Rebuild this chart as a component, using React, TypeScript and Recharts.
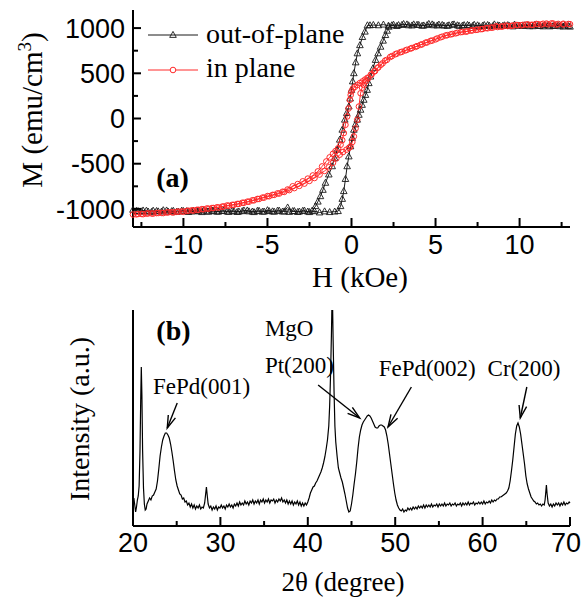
import React from 'react';
import { LineChart, Line, XAxis, YAxis, ReferenceLine, Legend } from 'recharts';

const SANS = '"Liberation Sans", Arial, sans-serif';
const SERIF = '"Liberation Serif", "Times New Roman", serif';

// ---------- Panel (a): hysteresis loops, [H (kOe), M (emu/cm3)] ----------
const outOfPlaneDown: [number, number][] = [
  [13.0,1015],[12.7,1030],[12.4,1020],[12.1,1028],[11.8,1018],[11.5,1032],[11.2,1022],[10.9,1035],[10.6,1020],[10.3,1030],
  [10.0,1025],[9.7,1038],[9.4,1022],[9.1,1030],[8.8,1027],[8.5,1040],[8.2,1025],[7.9,1033],[7.6,1020],[7.3,1036],
  [7.0,1028],[6.7,1032],[6.4,1024],[6.1,1040],[5.8,1030],[5.5,1026],[5.2,1038],[4.9,1030],[4.6,1045],[4.3,1028],
  [4.0,1034],[3.7,1040],[3.4,1030],[3.1,1044],[2.8,1032],[2.5,1036],[2.2,1026],[1.9,1038],[1.6,1030],[1.3,1034],
  [1.1,1030],[0.95,1030],[0.8,960],[0.65,900],[0.5,810],[0.35,720],[0.25,620],[0.14,500],[0.07,410],[0.0,316],
  [-0.08,220],[-0.16,132],[-0.28,60],[-0.4,-14],[-0.55,-125],[-0.7,-235],[-0.85,-345],[-1.0,-440],[-1.15,-529],[-1.35,-620],
  [-1.55,-712],[-1.7,-790],[-1.85,-860],[-2.0,-920],[-2.14,-970],[-2.34,-1020],[-2.6,-1030],[-2.9,-1022],[-3.2,-1035],[-3.5,-1025],
  [-3.8,-985],[-4.1,-1030],[-4.4,-1020],[-4.7,-1028],[-5.0,-1015],[-5.3,-1032],[-5.6,-1022],[-5.9,-1030],[-6.2,-1018],[-6.5,-1026],
  [-6.8,-1035],[-7.1,-1020],[-7.4,-1030],[-7.7,-1024],[-8.0,-1032],[-8.3,-1018],[-8.6,-1028],[-8.9,-1036],[-9.2,-1022],[-9.5,-1030],
  [-9.8,-1025],[-10.1,-1020],[-10.4,-1032],[-10.7,-1026],[-11.0,-1018],[-11.3,-1030],[-11.6,-1024],[-11.9,-1034],[-12.2,-1020],[-12.5,-1028],
  [-12.8,-1022]
];

const outOfPlaneUp: [number, number][] = [
  [-13.0,-1010],[-12.7,-1025],[-12.4,-1018],[-12.1,-1030],[-11.8,-1020],[-11.5,-1028],[-11.2,-1015],[-10.9,-1032],[-10.6,-1022],[-10.3,-1030],
  [-10.0,-1024],[-9.7,-1035],[-9.4,-1020],[-9.1,-1028],[-8.8,-1018],[-8.5,-1032],[-8.2,-1025],[-7.9,-1030],[-7.6,-1020],[-7.3,-1034],
  [-7.0,-1026],[-6.7,-1030],[-6.4,-1018],[-6.1,-1028],[-5.8,-1036],[-5.5,-1022],[-5.2,-1030],[-4.9,-1025],[-4.6,-1032],[-4.3,-1020],
  [-4.0,-1028],[-3.7,-1034],[-3.4,-1024],[-3.1,-1030],[-2.8,-1020],[-2.5,-1036],[-2.2,-1026],[-1.9,-1040],[-1.6,-1028],[-1.3,-1036],
  [-1.0,-1030],[-0.8,-1025],[-0.65,-970],[-0.55,-890],[-0.46,-804],[-0.36,-670],[-0.26,-529],[-0.16,-420],[-0.06,-309],[0.04,-215],
  [0.14,-125],[0.24,-65],[0.34,-14],[0.44,40],[0.54,96],[0.63,150],[0.73,206],[0.83,260],[0.93,316],[1.03,390],
  [1.13,463],[1.28,555],[1.43,647],[1.58,720],[1.73,793],[1.88,860],[2.02,922],[2.12,970],[2.22,1014],[2.4,1030],
  [2.7,1022],[3.0,1034],[3.3,1040],[3.6,1028],[3.9,1036],[4.2,1025],[4.5,1032],[4.8,1040],[5.1,1028],[5.4,1034],
  [5.7,1024],[6.0,1038],[6.3,1030],[6.6,1026],[6.9,1034],[7.2,1022],[7.5,1030],[7.8,1025],[8.1,1033],[8.4,1020],
  [8.7,1030],[9.0,1024],[9.3,1032],[9.6,1018],[9.9,1028],[10.2,1022],[10.5,1030],[10.8,1020],[11.1,1026],[11.4,1018],
  [11.7,1028],[12.0,1022],[12.3,1030],[12.6,1016],[12.9,1022]
];

const inPlaneDown: [number, number][] = [
  [13.0,1043],[12.6,1048],[12.2,1038],[11.9,1052],[11.6,1050],[11.3,1040],[11.0,1046],[10.7,1036],[10.4,1040],[10.1,1030],
  [9.8,1034],[9.5,1024],[9.2,1028],[8.9,1016],[8.6,1020],[8.3,1005],[8.0,1000],[7.7,988],[7.4,980],[7.1,972],
  [6.8,960],[6.5,955],[6.2,942],[5.9,930],[5.6,918],[5.3,898],[5.0,875],[4.7,858],[4.4,838],[4.1,815],
  [3.8,792],[3.5,772],[3.2,752],[2.9,732],[2.6,710],[2.3,680],[2.0,640],[1.75,595],[1.55,560],[1.35,520],
  [1.15,485],[0.95,450],[0.8,430],[0.65,410],[0.5,392],[0.35,372],[0.2,350],[0.08,330],[0.0,300],[-0.05,260],
  [-0.1,206],[-0.18,110],[-0.26,22],[-0.36,-70],[-0.46,-161],[-0.55,-240],[-0.65,-290],[-0.8,-330],[-0.95,-360],[-1.1,-390],
  [-1.3,-430],[-1.5,-475],[-1.75,-530],[-2.0,-585],[-2.3,-630],[-2.6,-665],[-2.9,-695],[-3.2,-725],[-3.5,-750],[-3.8,-785],
  [-4.1,-810],[-4.4,-828],[-4.7,-845],[-5.0,-858],[-5.3,-875],[-5.6,-890],[-5.9,-905],[-6.2,-920],[-6.5,-932],[-6.8,-945],
  [-7.1,-955],[-7.4,-962],[-7.7,-975],[-8.0,-982],[-8.3,-990],[-8.6,-995],[-8.9,-1002],[-9.2,-1010],[-9.5,-1015],[-9.8,-1022],
  [-10.1,-1028],[-10.4,-1032],[-10.7,-1036],[-11.0,-1040],[-11.3,-1044],[-11.6,-1046],[-11.9,-1050],[-12.2,-1052],[-12.5,-1055],[-12.8,-1060]
];

const inPlaneUp: [number, number][] = [
  [-13.0,-1062],[-12.7,-1056],[-12.4,-1058],[-12.1,-1050],[-11.8,-1052],[-11.5,-1045],[-11.2,-1046],[-10.9,-1038],[-10.6,-1040],[-10.3,-1030],
  [-10.0,-1032],[-9.7,-1020],[-9.4,-1018],[-9.1,-1010],[-8.8,-1004],[-8.5,-998],[-8.2,-990],[-7.9,-985],[-7.6,-972],[-7.3,-965],
  [-7.0,-955],[-6.7,-945],[-6.4,-932],[-6.1,-920],[-5.8,-905],[-5.5,-890],[-5.2,-875],[-4.9,-860],[-4.6,-845],[-4.3,-830],
  [-4.0,-812],[-3.7,-792],[-3.4,-770],[-3.1,-745],[-2.8,-720],[-2.5,-690],[-2.2,-658],[-1.9,-620],[-1.6,-580],[-1.35,-540],
  [-1.1,-490],[-0.9,-440],[-0.7,-400],[-0.5,-370],[-0.3,-345],[-0.15,-325],[-0.06,-309],[0.05,-260],[0.14,-198],[0.24,-110],
  [0.34,-14],[0.44,132],[0.54,279],[0.63,340],[0.73,371],[0.85,412],[1.0,445],[1.2,488],[1.4,525],[1.6,566],
  [1.85,610],[2.1,648],[2.4,690],[2.7,718],[3.0,738],[3.3,760],[3.6,780],[3.9,800],[4.2,820],[4.5,842],
  [4.8,862],[5.1,885],[5.4,905],[5.7,922],[6.0,935],[6.3,948],[6.6,958],[6.9,965],[7.2,975],[7.5,982],
  [7.8,990],[8.1,998],[8.4,1005],[8.7,1012],[9.0,1018],[9.3,1022],[9.6,1028],[9.9,1032],[10.2,1036],[10.5,1040],
  [10.8,1036],[11.1,1044],[11.4,1048],[11.7,1042],[12.0,1050],[12.3,1046],[12.6,1040],[12.9,1045]
];

const hTicks = [-12.5, -10, -7.5, -5, -2.5, 0, 2.5, 5, 7.5, 10, 12.5];
const hTickLabels = [-10, -5, 0, 5, 10];
const mTicks = [-1000, -750, -500, -250, 0, 250, 500, 750, 1000];
const mTickLabels = [-1000, -500, 0, 500, 1000];
const seriesNames = ['out-of-plane', 'in plane'];

// ---------- Panel (b): XRD scan, [2θ (deg), intensity (a.u.)] ----------
const xrdScan: [number, number][] = [
  [20.0,24],[20.1,28],[20.2,21],[20.3,14],[20.4,19],[20.5,26],[20.6,30],[20.7,40],[20.8,75],[20.88,125],
  [20.95,159],[21.02,130],[21.1,75],[21.2,38],[21.3,22],[21.4,16],[21.5,17],[21.6,22],[21.75,25],[21.9,28],
  [22.05,26],[22.2,30],[22.35,31],[22.5,34],[22.65,37],[22.8,45],[22.95,57],[23.1,70],[23.25,79],[23.4,86],
  [23.55,90],[23.7,93],[23.85,93],[24.0,91],[24.15,88],[24.3,82],[24.45,74],[24.6,65],[24.75,55],[24.9,46],
  [25.05,40],[25.2,36],[25.35,32],[25.5,31],[25.65,27],[25.8,28],[25.95,24],[26.1,25],[26.25,21],[26.4,23],
  [26.55,19],[26.7,22],[26.85,18],[27.0,21],[27.15,17],[27.3,20],[27.45,18],[27.6,21],[27.75,17],[27.9,19],
  [28.05,18],[28.2,23],[28.3,31],[28.4,39],[28.5,30],[28.6,22],[28.75,18],[28.9,20],[29.05,16],[29.2,19],
  [29.35,17],[29.5,20],[29.65,16],[29.8,19],[29.95,18],[30.1,21],[30.25,18],[30.4,20],[30.55,17],[30.7,21],
  [30.85,19],[31.0,22],[31.15,19],[31.3,21],[31.45,18],[31.6,22],[31.75,20],[31.9,23],[32.05,20],[32.2,24],
  [32.35,21],[32.5,23],[32.65,21],[32.8,25],[32.95,22],[33.1,24],[33.25,21],[33.4,25],[33.55,23],[33.7,26],
  [33.85,22],[34.0,25],[34.15,23],[34.3,26],[34.45,22],[34.6,26],[34.75,24],[34.9,27],[35.05,23],[35.2,26],
  [35.35,24],[35.5,27],[35.65,23],[35.8,26],[35.95,25],[36.1,27],[36.25,23],[36.4,26],[36.55,24],[36.7,27],
  [36.85,25],[37.0,28],[37.15,24],[37.3,26],[37.45,23],[37.6,26],[37.75,22],[37.9,25],[38.05,22],[38.2,25],
  [38.35,21],[38.5,24],[38.65,22],[38.8,25],[38.95,21],[39.1,24],[39.25,20],[39.4,23],[39.55,20],[39.7,23],
  [39.85,21],[40.0,24],[40.15,28],[40.3,33],[40.45,36],[40.6,39],[40.75,40],[40.9,43],[41.05,45],[41.2,48],
  [41.35,51],[41.5,54],[41.65,58],[41.8,63],[41.95,69],[42.1,77],[42.25,86],[42.4,100],[42.5,120],[42.6,150],
  [42.7,190],[42.8,240],[42.9,185],[43.0,136],[43.1,100],[43.2,84],[43.35,70],[43.5,58],[43.65,53],[43.8,48],
  [43.95,44],[44.1,38],[44.25,32],[44.4,25],[44.55,18],[44.7,14],[44.85,15],[45.0,22],[45.15,31],[45.3,42],
  [45.45,52],[45.6,64],[45.75,78],[45.9,89],[46.05,96],[46.2,101],[46.35,104],[46.5,106],[46.65,108],[46.8,110],
  [46.95,111],[47.1,110],[47.25,108],[47.4,105],[47.55,102],[47.7,99],[47.85,98],[48.0,98],[48.15,100],[48.3,101],
  [48.45,101],[48.6,100],[48.75,99],[48.9,96],[49.05,90],[49.2,82],[49.35,72],[49.5,62],[49.65,52],[49.8,42],
  [49.95,33],[50.1,26],[50.25,21],[50.4,18],[50.55,16],[50.7,15],[50.85,17],[51.0,14],[51.15,16],[51.3,15],
  [51.45,18],[51.6,16],[51.75,18],[51.9,16],[52.05,19],[52.2,17],[52.35,19],[52.5,17],[52.65,20],[52.8,18],
  [52.95,20],[53.1,18],[53.25,21],[53.4,18],[53.55,21],[53.7,19],[53.85,21],[54.0,19],[54.15,22],[54.3,19],
  [54.45,21],[54.6,20],[54.75,22],[54.9,19],[55.05,22],[55.2,20],[55.35,22],[55.5,20],[55.65,23],[55.8,20],
  [55.95,22],[56.1,21],[56.25,23],[56.4,20],[56.55,22],[56.7,21],[56.85,23],[57.0,20],[57.15,22],[57.3,21],
  [57.45,23],[57.6,20],[57.75,23],[57.9,21],[58.05,23],[58.2,21],[58.35,24],[58.5,21],[58.65,23],[58.8,22],
  [58.95,24],[59.1,21],[59.25,23],[59.4,22],[59.55,24],[59.7,22],[59.85,24],[60.0,22],[60.15,25],[60.3,22],
  [60.45,24],[60.6,23],[60.75,25],[60.9,23],[61.05,26],[61.2,24],[61.35,26],[61.5,25],[61.65,27],[61.8,27],
  [61.95,29],[62.1,29],[62.25,30],[62.4,31],[62.55,32],[62.7,33],[62.85,35],[63.0,38],[63.15,45],[63.3,55],
  [63.45,66],[63.6,79],[63.75,92],[63.9,100],[64.05,103],[64.2,99],[64.35,92],[64.5,82],[64.65,72],[64.8,62],
  [64.95,50],[65.1,42],[65.25,37],[65.4,33],[65.55,29],[65.7,27],[65.85,25],[66.0,24],[66.15,22],[66.3,23],
  [66.45,21],[66.6,22],[66.75,20],[66.9,22],[67.05,21],[67.15,26],[67.25,36],[67.3,41],[67.38,32],[67.5,23],
  [67.65,20],[67.8,22],[67.95,19],[68.1,22],[68.25,20],[68.4,23],[68.55,21],[68.7,23],[68.85,20],[69.0,23],
  [69.15,21],[69.3,24],[69.45,21],[69.6,23],[69.75,22],[69.9,24],[70.0,23]
];

const thetaTicks = [20, 25, 30, 35, 40, 45, 50, 55, 60, 65, 70];
const thetaTickLabels = [20, 30, 40, 50, 60, 70];

// ---------- helpers ----------
const toHM = (arr: [number, number][]) => arr.map(([h, m]) => ({ h, m }));
const toXrd = (arr: [number, number][]) => arr.map(([t, i]) => ({ t, i }));

const frameLine = { stroke: '#000', strokeWidth: 2 };
const BLACK = '#1a1a1a';
const RED = '#ff2a2a';

const triPath = (cx: number, cy: number) =>
  `M${cx},${cy - 3.6} L${cx + 3.3},${cy + 2.4} L${cx - 3.3},${cy + 2.4} Z`;

const TriangleDot = (p: any) => {
  if (p.cx == null || p.cy == null) return <g key={p.index} />;
  return <path key={p.index} d={triPath(p.cx, p.cy)} fill="none" stroke={BLACK} strokeWidth={0.9} />;
};
const CircleDot = (p: any) => {
  if (p.cx == null || p.cy == null) return <g key={p.index} />;
  return <circle key={p.index} cx={p.cx} cy={p.cy} r={2.8} fill="none" stroke={RED} strokeWidth={1} />;
};

const makeXTick = (labels: number[], majorLen: number, minorLen: number, gap: number, lastShift = 0) => (p: any) => {
  const v = p.payload.value;
  const major = labels.includes(v);
  const isLast = v === labels[labels.length - 1] && lastShift !== 0;
  return (
    <g>
      <line x1={p.x} y1={p.y} x2={p.x} y2={p.y - (major ? majorLen : minorLen)} stroke="#000" strokeWidth={2} />
      {major && (
        <text x={isLast ? p.x + lastShift : p.x} y={p.y + gap} dy="0.72em" textAnchor={isLast ? 'end' : 'middle'}
          fontFamily={SANS} fontSize={27} fill="#000">
          {v}
        </text>
      )}
    </g>
  );
};

const makeYTick = (labels: number[], majorLen: number, minorLen: number, gap: number) => (p: any) => {
  const v = p.payload.value;
  const major = labels.includes(v);
  return (
    <g>
      <line x1={p.x} y1={p.y} x2={p.x + (major ? majorLen : minorLen)} y2={p.y} stroke="#000" strokeWidth={2} />
      {major && (
        <text x={p.x - gap} y={p.y} dy="0.36em" textAnchor="end" fontFamily={SANS} fontSize={27} fill="#000">
          {v}
        </text>
      )}
    </g>
  );
};

const ArrowShape = (p: any) => {
  const { x1, y1, x2, y2 } = p;
  const a = Math.atan2(y2 - y1, x2 - x1);
  const L = 13;
  const s = 0.3;
  const h1x = x2 - L * Math.cos(a - s);
  const h1y = y2 - L * Math.sin(a - s);
  const h2x = x2 - L * Math.cos(a + s);
  const h2y = y2 - L * Math.sin(a + s);
  return (
    <g>
      <line x1={x1} y1={y1} x2={x2} y2={y2} stroke="#000" strokeWidth={1.4} />
      <path d={`M${h1x},${h1y} L${x2},${y2} L${h2x},${h2y}`} fill="none" stroke="#000" strokeWidth={1.4} />
    </g>
  );
};

const textShape = (label: string, size: number, anchor: string, bold = false) => (p: any) => (
  <text x={p.x1} y={p.y1} textAnchor={anchor} fontFamily={SERIF} fontSize={size}
    fontWeight={bold ? 'bold' : 'normal'} fill="#000">
    {label}
  </text>
);

const LegendBox = () => (
  <svg width={240} height={80} style={{ overflow: 'visible' }}>
    <line x1={8} y1={25} x2={58} y2={25} stroke={BLACK} strokeWidth={1} />
    <path d={triPath(33, 25)} fill="none" stroke={BLACK} strokeWidth={0.9} />
    <text x={66} y={33} fontFamily={SERIF} fontSize={28} fill="#000">{seriesNames[0]}</text>
    <line x1={8} y1={60} x2={58} y2={60} stroke={RED} strokeWidth={1} />
    <circle cx={33} cy={60} r={2.8} fill="#fff" stroke={RED} strokeWidth={1} />
    <text x={66} y={67} fontFamily={SERIF} fontSize={28} fill="#000">{seriesNames[1]}</text>
  </svg>
);

const TitleH = () => (
  <text x={360} y={287} textAnchor="middle" fontFamily={SERIF} fontSize={29} fill="#000">H (kOe)</text>
);
const TitleM = () => (
  <text transform="rotate(-90)" x={-110} y={42} textAnchor="middle" fontFamily={SERIF} fontSize={29} fill="#000">
    <tspan>M (emu/cm</tspan>
    <tspan fontSize={19} dy={-11}>3</tspan>
    <tspan dy={11}>)</tspan>
  </text>
);
const TitleTheta = () => (
  <text x={343} y={291} textAnchor="middle" fontFamily={SERIF} fontSize={27} fill="#000">2θ (degree)</text>
);
const TitleIntensity = () => (
  <text transform="rotate(-90)" x={-119} y={89} textAnchor="middle" fontFamily={SERIF} fontSize={28} fill="#000">
    Intensity (a.u.)
  </text>
);

export default function App() {
  const outDown = toHM(outOfPlaneDown);
  const outUp = toHM(outOfPlaneUp);
  const inDown = toHM(inPlaneDown);
  const inUp = toHM(inPlaneUp);
  const xrd = toXrd(xrdScan);

  return (
    <div style={{ position: 'absolute', left: 0, top: 0, width: 583, height: 608, background: '#fff' }}>
      <div style={{ position: 'absolute', left: 0, top: 0 }}>
        <LineChart width={583} height={300} margin={{ top: 10, right: 13, bottom: 0, left: 0 }}>
          <XAxis xAxisId="top" orientation="top" type="number" domain={[-13, 13]} height={0}
            tick={false} tickLine={false} axisLine={frameLine} allowDataOverflow />
          <YAxis yAxisId="right" orientation="right" type="number" domain={[-1200, 1200]} width={0}
            tick={false} tickLine={false} axisLine={frameLine} allowDataOverflow />
          <XAxis type="number" dataKey="h" domain={[-13, 13]} ticks={hTicks} interval={0} height={73}
            tickSize={0} tickMargin={0} tickLine={false} axisLine={frameLine}
            tick={makeXTick(hTickLabels, 9, 5, 8)} label={{ content: TitleH }} />
          <YAxis type="number" dataKey="m" domain={[-1200, 1200]} ticks={mTicks} interval={0} width={133}
            tickSize={0} tickMargin={0} tickLine={false} axisLine={frameLine}
            tick={makeYTick(mTickLabels, 8, 5, 8)} label={{ content: TitleM }} />
          <Line data={outDown} dataKey="m" stroke={BLACK} strokeWidth={1} dot={TriangleDot}
            activeDot={false} isAnimationActive={false} name={seriesNames[0]} />
          <Line data={outUp} dataKey="m" stroke={BLACK} strokeWidth={1} dot={TriangleDot}
            activeDot={false} isAnimationActive={false} name={seriesNames[0] + ' (up)'} legendType="none" />
          <Line data={inDown} dataKey="m" stroke={RED} strokeWidth={1} dot={CircleDot}
            activeDot={false} isAnimationActive={false} name={seriesNames[1]} />
          <Line data={inUp} dataKey="m" stroke={RED} strokeWidth={1} dot={CircleDot}
            activeDot={false} isAnimationActive={false} name={seriesNames[1] + ' (up)'} legendType="none" />
          <ReferenceLine segment={[{ x: -10.65, y: -753 }, { x: -10.65, y: -753 }]} shape={textShape('(a)', 28, 'middle', true)} />
          <Legend layout="vertical" align="center" verticalAlign="middle" content={LegendBox}
            wrapperStyle={{ left: 140, top: 10, width: 240, height: 80 }} />
        </LineChart>
      </div>
      <div style={{ position: 'absolute', left: 0, top: 300 }}>
        <LineChart width={583} height={308} margin={{ top: 10, right: 13, bottom: 0, left: 0 }}>
          <XAxis xAxisId="top" orientation="top" type="number" domain={[20, 70]} height={0}
            tick={false} tickLine={false} axisLine={frameLine} allowDataOverflow />
          <YAxis yAxisId="right" orientation="right" type="number" domain={[0, 216]} width={0}
            tick={false} tickLine={false} axisLine={frameLine} allowDataOverflow />
          <XAxis type="number" dataKey="t" domain={[20, 70]} ticks={thetaTicks} interval={0} height={82}
            tickSize={0} tickMargin={0} tickLine={false} axisLine={frameLine}
            tick={makeXTick(thetaTickLabels, 9, 5, 7, 11)} label={{ content: TitleTheta }} />
          <YAxis type="number" dataKey="i" domain={[0, 216]} width={133} allowDataOverflow
            tick={false} tickLine={false} axisLine={frameLine} label={{ content: TitleIntensity }} />
          <Line data={xrd} dataKey="i" stroke="#000" strokeWidth={1.2} dot={false}
            activeDot={false} isAnimationActive={false} />
          <ReferenceLine segment={[{ x: 24.63, y: 186 }, { x: 24.63, y: 186 }]} shape={textShape('(b)', 28, 'middle', true)} />
          <ReferenceLine segment={[{ x: 35.09, y: 190 }, { x: 35.09, y: 190 }]} shape={textShape('MgO', 23, 'start')} />
          <ReferenceLine segment={[{ x: 35.09, y: 153 }, { x: 35.09, y: 153 }]} shape={textShape('Pt(200)', 23, 'start')} />
          <ReferenceLine segment={[{ x: 22.29, y: 132 }, { x: 22.29, y: 132 }]} shape={textShape('FePd(001)', 23, 'start')} />
          <ReferenceLine segment={[{ x: 48.11, y: 150 }, { x: 48.11, y: 150 }]} shape={textShape('FePd(002)', 23, 'start')} />
          <ReferenceLine segment={[{ x: 60.57, y: 150 }, { x: 60.57, y: 150 }]} shape={textShape('Cr(200)', 23, 'start')} />
          <ReferenceLine segment={[{ x: 25.06, y: 123 }, { x: 23.92, y: 98 }]} shape={ArrowShape} />
          <ReferenceLine segment={[{ x: 41.18, y: 141 }, { x: 45.94, y: 108 }]} shape={ArrowShape} />
          <ReferenceLine segment={[{ x: 51.85, y: 139 }, { x: 49.18, y: 99 }]} shape={ArrowShape} />
          <ReferenceLine segment={[{ x: 65.06, y: 139 }, { x: 64.31, y: 108 }]} shape={ArrowShape} />
        </LineChart>
      </div>
    </div>
  );
}
